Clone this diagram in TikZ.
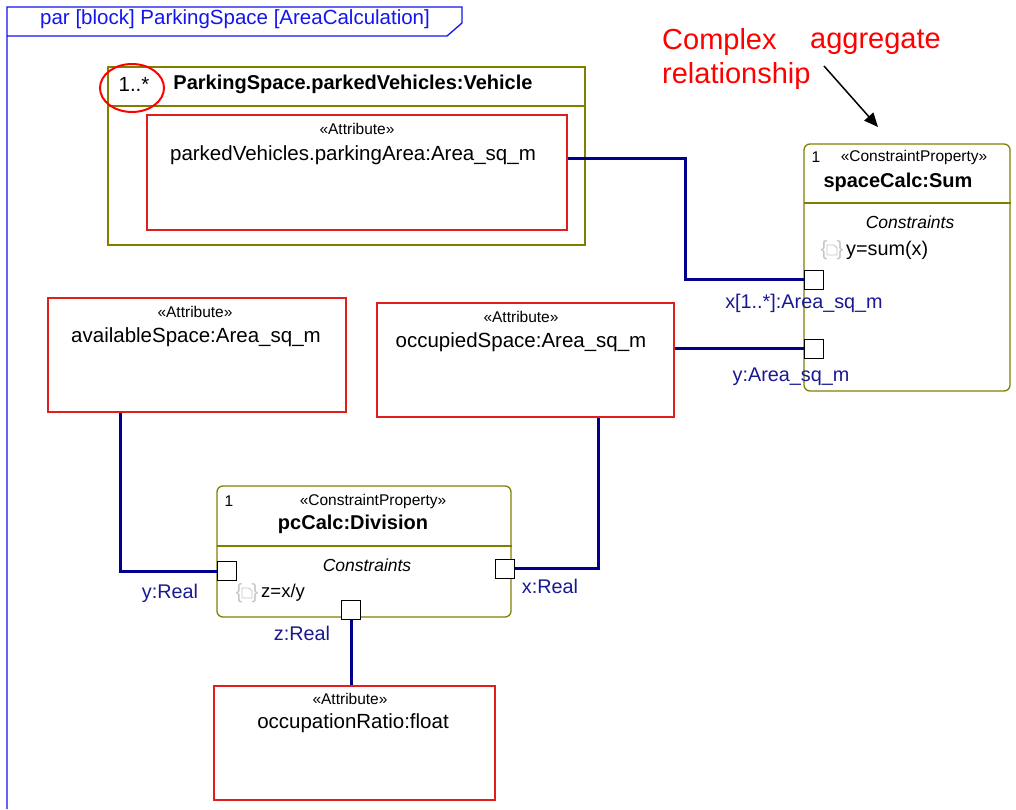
\documentclass[tikz,border=0pt]{standalone}
\usepackage{fontspec}
\setmainfont{Liberation Sans}
\usetikzlibrary{arrows.meta}
\definecolor{frameblue}{RGB}{20,20,240}
\definecolor{blkolive}{RGB}{128,128,0}
\definecolor{attrred}{RGB}{225,30,30}
\definecolor{connnavy}{RGB}{0,0,140}
\definecolor{lblnavy}{RGB}{25,25,145}
\definecolor{annred}{RGB}{255,0,0}
\newcommand{\fmain}{\fontsize{20.5}{23}\selectfont}
\newcommand{\flabel}{\fontsize{19.8}{23}\selectfont}
\newcommand{\fbold}{\fontsize{20}{23}\selectfont\bfseries}
\newcommand{\fster}{\fontsize{15.5}{18}\selectfont}
\newcommand{\fital}{\fontsize{17.5}{20}\selectfont\itshape}
\newcommand{\fann}{\fontsize{29}{34}\selectfont}
\tikzset{
  x=1pt, y=-1pt,
  attrbox/.style={draw=attrred, line width=1.3pt, rectangle, inner sep=0pt},
  blkbox/.style={draw=blkolive, line width=1.3pt, rectangle, inner sep=0pt},
  cpbox/.style={draw=blkolive, line width=1.3pt, rectangle, rounded corners=6pt, inner sep=0pt},
  divline/.style={draw=blkolive, line width=1.3pt},
  portbox/.style={draw=black, fill=white, line width=1pt, minimum size=19pt, inner sep=0pt},
  conn/.style={draw=connnavy, line width=3pt},
  txt/.style={inner sep=0pt, anchor=center, font=\fmain},
  ster/.style={inner sep=0pt, anchor=center, font=\fster},
  boldtxt/.style={inner sep=0pt, anchor=center, font=\fbold},
  plabel/.style={inner sep=0pt, anchor=center, font=\flabel, text=lblnavy},
  icon/.style={inner sep=0pt, anchor=center, font=\fmain, text=gray!45},
}
\begin{document}
\begin{tikzpicture}
\useasboundingbox (0,0) rectangle (1016,809);
\fill[white] (0,0) rectangle (1016,809);

% frame
\draw[frameblue, line width=1.3pt] (7,809) -- (7,7) -- (462,7) -- (462,23) -- (447,36) -- (7,36);
\node[inner sep=0pt, anchor=west, font=\fmain, text=frameblue] (ftitle) at (40,19) {par [block] ParkingSpace [AreaCalculation]};

% ParkingSpace.parkedVehicles block
\node[blkbox, minimum width=477pt, minimum height=178pt] (pv) at (346.5,156) {};
\draw[divline] (108,106) -- (585,106);
\node[txt] (pvmult) at (134,84) {1..*};
\node[boldtxt] (pvtitle) at (353,84) {ParkingSpace.parkedVehicles:Vehicle};
\draw[annred, line width=2pt] (132,88) ellipse [x radius=32, y radius=24];
\node[attrbox, minimum width=420pt, minimum height=115pt] (pa) at (357,172.5) {};
\node[ster] (past) at (357,129) {«Attribute»};
\node[txt] (patx) at (353,155) {parkedVehicles.parkingArea:Area\_sq\_m};

% spaceCalc:Sum
\node[cpbox, minimum width=206pt, minimum height=247pt] (sc) at (907,267.5) {};
\draw[divline] (804,203) -- (1011,203);
\node[ster] (scmult) at (816,157) {1};
\node[ster] (scst) at (914,157) {«ConstraintProperty»};
\node[boldtxt] (sctitle) at (898,182) {spaceCalc:Sum};
\node[txt, font=\fital] (sccon) at (910,222) {Constraints};
\node[icon] (scicon) at (832,250) {\{\hspace{9pt}\}};
\draw[gray!45, line width=0.8pt] (827,245) -- (834,245) -- (837,248) -- (837,255) -- (827,255) -- cycle;
\node[inner sep=0pt, anchor=west, font=\flabel] (sceq) at (846,250) {y=sum(x)};
\node[portbox] (sx) at (813.5,279.5) {};
\node[portbox] (sy) at (813.5,348.5) {};
\node[plabel] (sxl) at (804,303) {x[1..*]:Area\_sq\_m};
\node[plabel] (syl) at (791,377) {y:Area\_sq\_m};

% availableSpace
\node[attrbox, minimum width=298pt, minimum height=114pt] (av) at (197,355) {};
\node[ster] (avst) at (195,312) {«Attribute»};
\node[txt] (avtx) at (196,337) {availableSpace:Area\_sq\_m};

% occupiedSpace
\node[attrbox, minimum width=297pt, minimum height=114pt] (oc) at (525.5,360) {};
\node[ster] (ocst) at (521,317) {«Attribute»};
\node[txt] (octx) at (521,342) {occupiedSpace:Area\_sq\_m};

% pcCalc:Division
\node[cpbox, minimum width=294pt, minimum height=131pt] (pc) at (364,551.5) {};
\draw[divline] (217,546) -- (512,546);
\node[ster] (pcmult) at (229,501) {1};
\node[ster] (pcst) at (373,501) {«ConstraintProperty»};
\node[boldtxt] (pctitle) at (353,524) {pcCalc:Division};
\node[txt, font=\fital] (pccon) at (367,565) {Constraints};
\node[icon] (pcicon) at (247,593) {\{\hspace{9pt}\}};
\draw[gray!45, line width=0.8pt] (242,588) -- (249,588) -- (252,591) -- (252,598) -- (242,598) -- cycle;
\node[inner sep=0pt, anchor=west, font=\fontsize{18.5}{21}\selectfont] (pceq) at (261,593) {z=x/y};
\node[portbox] (py) at (227,571) {};
\node[portbox] (px) at (504.5,568.5) {};
\node[portbox] (pz) at (351,610) {};
\node[plabel] (pyl) at (170,593) {y:Real};
\node[plabel] (pxl) at (550,586) {x:Real};
\node[plabel] (pzl) at (302,633) {z:Real};

% occupationRatio
\node[attrbox, minimum width=281pt, minimum height=114pt] (orr) at (354.5,743) {};
\node[ster] (orst) at (350,699) {«Attribute»};
\node[txt] (ortx) at (353,723) {occupationRatio:float};

% connectors
\draw[conn] ([yshift=14.5pt]pa.east) -- ++(118,0) |- (sx.west);
\draw[conn] (sy.west) -- (sy.west -| oc.east);
\draw[conn] ([xshift=-77pt]av.south) |- (py.west);
\draw[conn] ([xshift=73pt]oc.south) |- (px.east);
\draw[conn] (pz.south) -- (pz.south |- orr.north);
% redraw ports on top
\node[portbox] at (sx) {};
\node[portbox] at (sy) {};
\node[portbox] at (py) {};
\node[portbox] at (px) {};
\node[portbox] at (pz) {};

% annotation
\node[inner sep=0pt, anchor=west, font=\fann, text=annred] (ann1) at (662,42) {Complex};
\node[inner sep=0pt, anchor=west, font=\fann, text=annred] (ann2) at (810,42) {aggregate};
\node[inner sep=0pt, anchor=west, font=\fann, text=annred] (ann3) at (662,76) {relationship};
\coordinate (anntail) at (824,66);
\coordinate (annhead) at (878,127);
\draw[black, line width=1.5pt, -{Triangle[length=14pt,width=12pt]}] (anntail) -- (annhead);
\end{tikzpicture}
\end{document}
